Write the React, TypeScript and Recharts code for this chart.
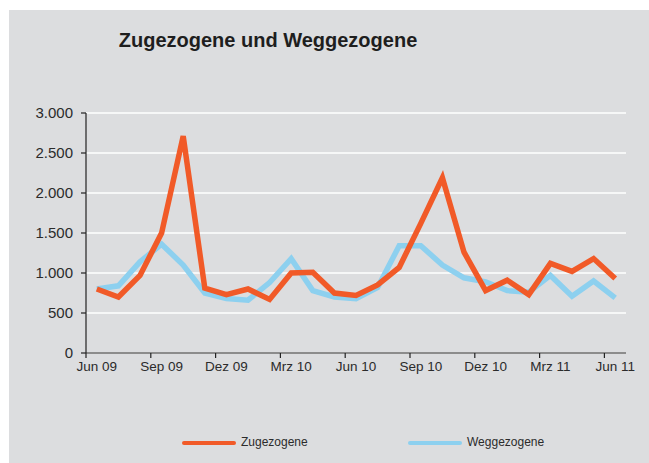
import { LineChart, Line, XAxis, YAxis, CartesianGrid } from "recharts";

const MONTHS = [
  "Jun 09", "Jul 09", "Aug 09", "Sep 09", "Okt 09", "Nov 09", "Dez 09",
  "Jan 10", "Feb 10", "Mrz 10", "Apr 10", "Mai 10", "Jun 10", "Jul 10",
  "Aug 10", "Sep 10", "Okt 10", "Nov 10", "Dez 10", "Jan 11", "Feb 11",
  "Mrz 11", "Apr 11", "Mai 11", "Jun 11",
];

const ZUGEZOGENE = [
  800, 700, 970, 1500, 2710, 810, 730, 800, 670, 1000, 1010, 750, 720,
  850, 1070, 1620, 2190, 1260, 780, 910, 730, 1120, 1020, 1180, 930,
];

const WEGGEZOGENE = [
  800, 840, 1140, 1360, 1100, 750, 680, 660, 880, 1180, 780, 700, 680,
  820, 1340, 1340, 1100, 940, 890, 780, 760, 970, 710, 900, 690,
];

const X_TICKS = [0, 3, 6, 9, 12, 15, 18, 21, 24];
const Y_TICKS = [0, 500, 1000, 1500, 2000, 2500, 3000];

const ORANGE = "#F15A28";
const BLUE = "#8DD0EF";
const BG = "#DCDDDF";
const TEXT = "#2b2b2b";

const data = MONTHS.map((m, i) => ({
  i,
  month: m,
  zu: ZUGEZOGENE[i],
  weg: WEGGEZOGENE[i],
}));

const PLOT_W = 540;
const HALF_BAND = PLOT_W / MONTHS.length / 2;

function fmt(v: number) {
  return v >= 1000 ? `${Math.floor(v / 1000)}.${String(v % 1000).padStart(3, "0")}` : `${v}`;
}

function MonthTick({ x, y, payload }: { x?: number; y?: number; payload?: { value: number } }) {
  const px = x ?? 0;
  const py = y ?? 0;
  const idx = payload?.value ?? 0;
  return (
    <g>
      <line x1={px - HALF_BAND} x2={px - HALF_BAND} y1={py - 8} y2={py - 3} stroke="#222" strokeWidth={1.2} />
      <text x={px} y={py + 10} textAnchor="middle" fontSize={13.5} fill={TEXT} fontFamily="Liberation Sans, Arial, sans-serif">
        {MONTHS[idx]}
      </text>
    </g>
  );
}

export default function App() {
  return (
    <div style={{ position: "absolute", left: 0, top: 0, width: 649, height: 463, background: "#fff", fontFamily: "Liberation Sans, Arial, sans-serif" }}>
      <div style={{ position: "absolute", left: 9, top: 10, width: 640, height: 453, background: BG }} />
      <div style={{ position: "absolute", left: 0, top: 0 }}>
        <LineChart width={649} height={463} data={data} margin={{ top: 113, right: 23, bottom: 80, left: 0 }}>
          <CartesianGrid vertical={false} stroke="#ffffff" strokeWidth={1.5} />
          <XAxis
            dataKey="i"
            type="number"
            domain={[-0.5, 24.5]}
            ticks={X_TICKS}
            interval={0}
            tick={<MonthTick />}
            tickLine={false}
            axisLine={{ stroke: "#222", strokeWidth: 1.2 }}
            height={30}
          />
          <YAxis
            domain={[0, 3000]}
            ticks={Y_TICKS}
            width={86}
            tickSize={5}
            tickFormatter={fmt}
            tickLine={{ stroke: "#222", strokeWidth: 1.2 }}
            axisLine={{ stroke: "#222", strokeWidth: 1.2 }}
            tick={{ fill: TEXT, fontSize: 15, fontFamily: "Liberation Sans, Arial, sans-serif", dx: -6 }}
          />
          <Line dataKey="weg" stroke={BLUE} strokeWidth={5.5} dot={false} isAnimationActive={false} type="linear" strokeLinejoin="miter" />
          <Line dataKey="zu" stroke={ORANGE} strokeWidth={5.5} dot={false} isAnimationActive={false} type="linear" strokeLinejoin="miter" />
        </LineChart>
      </div>
      <div style={{ position: "absolute", left: 0, width: 536, top: 29, textAlign: "center", fontWeight: "bold", fontSize: 20, color: "#1e1e1e" }}>
        Zugezogene und Weggezogene
      </div>
      <div style={{ position: "absolute", left: 182, top: 441, width: 54, height: 4, background: ORANGE, borderRadius: 2 }} />
      <div style={{ position: "absolute", left: 241, top: 435, fontSize: 12, color: TEXT }}>Zugezogene</div>
      <div style={{ position: "absolute", left: 408, top: 441, width: 54, height: 4, background: BLUE, borderRadius: 2 }} />
      <div style={{ position: "absolute", left: 467, top: 435, fontSize: 12, color: TEXT }}>Weggezogene</div>
    </div>
  );
}
